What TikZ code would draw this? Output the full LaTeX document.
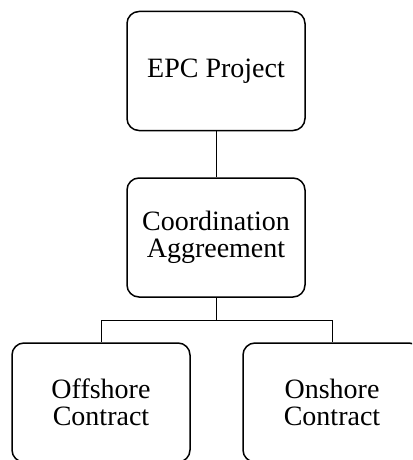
\documentclass[tikz,border=0pt]{standalone}
\usepackage{fontspec}
\setmainfont{Liberation Serif}
\begin{document}
\begin{tikzpicture}[x=1pt,y=-1pt,
  box/.style={draw, line width=1.5pt, rounded corners=12pt, minimum width=178pt, minimum height=119pt, align=center, font=\fontsize{28}{27.5}\selectfont, inner sep=0pt},
  link/.style={draw, line width=0.9pt}]
\clip (0,0) rectangle (412,460);
\useasboundingbox (0,0) rectangle (412,460);
\node[box] (epc) at (216,71) {EPC Project};
\node[box] (coord) at (216,237.5) {Coordination\\Aggreement};
\node[box] (off) at (101,402.5) {Offshore\\Contract};
\node[box] (on) at (332,402.5) {Onshore\\Contract};
\coordinate (j) at (216,320);
\draw[link] (epc) -- (coord);
\draw[link] (coord.south) -- (j) -| (off.north);
\draw[link] (j) -| (on.north);
\end{tikzpicture}
\end{document}
